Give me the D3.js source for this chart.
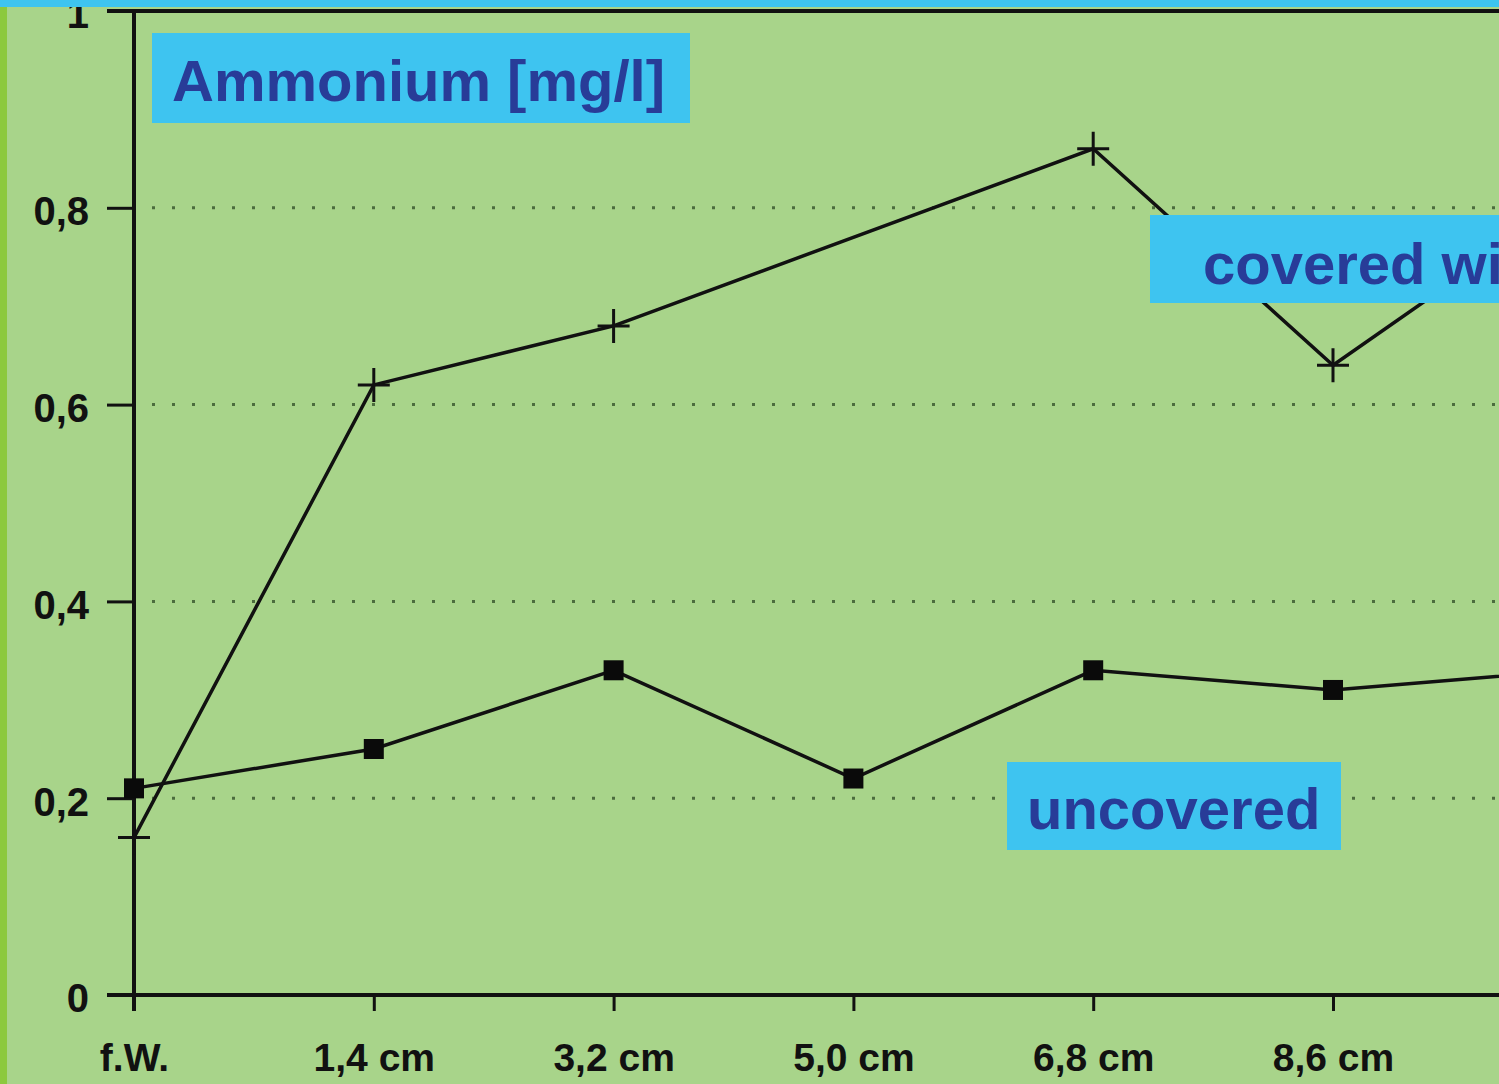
<!DOCTYPE html>
<html>
<head>
  <meta charset="utf-8">
  <title>Ammonium</title>
  <script src="https://d3js.org/d3.v7.min.js"></script>
  <style>
    body { margin: 0; background: #a8d48a; overflow: hidden; }
    svg { display: block; }
  </style>
</head>
<body>
<script>
// categories (last one sits just past the right edge, as in the cropped original)
var depths = ['f.W.', '1,4 cm', '3,2 cm', '5,0 cm', '6,8 cm', '8,6 cm', '10,4 cm'];
var covered = [0.16, 0.62, 0.68, null, 0.86, 0.64, 0.81];
var uncovered = [0.21, 0.25, 0.33, 0.22, 0.33, 0.31, 0.33];
var yTicks = [0, 0.2, 0.4, 0.6, 0.8, 1];
var gridTicks = [0.2, 0.4, 0.6, 0.8];

var width = 1499, height = 1084;
var bg = '#a8d48a', boxBlue = '#3ec4f0', textBlue = '#283c98';

var svg = d3.select('body').append('svg').attr('width', width).attr('height', height);

svg.append('rect').attr('width', width).attr('height', height).attr('fill', bg);

var x = d3.scalePoint().domain(depths).range([134, 134 + 6 * 239.8]);
var y = d3.scaleLinear().domain([0, 1]).range([995, 11]);

// dotted grid
svg.selectAll('.grid')
   .data(gridTicks)
   .enter()
   .append('line')
   .attr('x1', 152).attr('x2', width)
   .attr('y1', function(d) { return y(d); })
   .attr('y2', function(d) { return y(d); })
   .attr('stroke', '#2c4a24')
   .attr('stroke-width', 3)
   .attr('stroke-dasharray', '3,17')
   .attr('opacity', 0.75);

// y axis
var yAxis = d3.axisLeft(y).tickValues(yTicks).tickSize(27).tickPadding(18)
  .tickFormat(function(d) { return d === 0 || d === 1 ? d : d3.format('.1f')(d).replace('.', ','); });
var gy = svg.append('g').attr('transform', 'translate(134,0)').call(yAxis);
gy.select('.domain').remove();
gy.selectAll('line').attr('stroke', '#111').attr('stroke-width', 3);
gy.selectAll('text').attr('fill', '#111').attr('font-family', 'Liberation Sans, Arial, sans-serif')
  .attr('font-weight', 'bold').attr('font-size', 40).attr('dy', '0.42em');

// x axis
var xAxis = d3.axisBottom(x).tickSize(16).tickPadding(32);
var gx = svg.append('g').attr('transform', 'translate(0,995)').call(xAxis);
gx.select('.domain').remove();
gx.selectAll('line').attr('stroke', '#111').attr('stroke-width', 3);
gx.selectAll('text').attr('fill', '#111').attr('font-family', 'Liberation Sans, Arial, sans-serif')
  .attr('font-weight', 'bold').attr('font-size', 39);

// frame lines
svg.append('line').attr('x1', 134).attr('x2', 134).attr('y1', y(1)).attr('y2', y(0) + 16)
   .attr('stroke', '#111').attr('stroke-width', 4);
svg.append('line').attr('x1', 107).attr('x2', width).attr('y1', y(0)).attr('y2', y(0))
   .attr('stroke', '#111').attr('stroke-width', 4);
svg.append('line').attr('x1', 107).attr('x2', width).attr('y1', y(1)).attr('y2', y(1))
   .attr('stroke', '#111').attr('stroke-width', 4);

function points(vals) {
  return vals.map(function(v, i) { return { c: depths[i], v: v }; })
             .filter(function(d) { return d.v !== null; });
}

var line = d3.line().x(function(d) { return x(d.c); }).y(function(d) { return y(d.v); });

var covPts = points(covered), uncPts = points(uncovered);

svg.append('path').datum(uncPts).attr('d', line)
   .attr('fill', 'none').attr('stroke', '#111').attr('stroke-width', 3.5);
svg.append('path').datum(covPts).attr('d', line)
   .attr('fill', 'none').attr('stroke', '#111').attr('stroke-width', 3.5);

// square markers
svg.selectAll('.sq')
   .data(uncPts)
   .enter()
   .append('rect')
   .attr('x', function(d) { return x(d.c) - 10; })
   .attr('y', function(d) { return y(d.v) - 10; })
   .attr('width', 20).attr('height', 20)
   .attr('fill', '#0a0a0a');

// plus markers
svg.selectAll('.plus')
   .data(covPts)
   .enter()
   .append('path')
   .attr('d', function(d) {
     var cx = x(d.c), cy = y(d.v);
     return 'M' + (cx - 16) + ',' + cy + 'H' + (cx + 16) + 'M' + cx + ',' + (cy - 17) + 'V' + (cy + 17);
   })
   .attr('stroke', '#111').attr('stroke-width', 3).attr('fill', 'none');

// labels in blue boxes
var labels = [
  { text: 'Ammonium [mg/l]', x: 152, y: 33, w: 538, h: 90, tx: 172, ty: 101 },
  { text: 'covered with', x: 1150, y: 215, w: 400, h: 88, tx: 1203, ty: 284 },
  { text: 'uncovered', x: 1007, y: 762, w: 334, h: 88, tx: 1027, ty: 829 }
];
var lg = svg.selectAll('.lab').data(labels).enter().append('g');
lg.append('rect')
  .attr('x', function(d) { return d.x; }).attr('y', function(d) { return d.y; })
  .attr('width', function(d) { return d.w; }).attr('height', function(d) { return d.h; })
  .attr('fill', boxBlue);
lg.append('text')
  .attr('x', function(d) { return d.tx; }).attr('y', function(d) { return d.ty; })
  .attr('fill', textBlue)
  .attr('font-family', 'Liberation Sans, Arial, sans-serif')
  .attr('font-weight', 'bold').attr('font-size', 58)
  .text(function(d) { return d.text; });

// strips at the edges, drawn over everything
svg.append('rect').attr('x', 0).attr('y', 0).attr('width', 7).attr('height', height).attr('fill', '#8cc93e');
svg.append('rect').attr('x', 0).attr('y', 0).attr('width', width).attr('height', 7).attr('fill', boxBlue);
</script>
</body>
</html>
